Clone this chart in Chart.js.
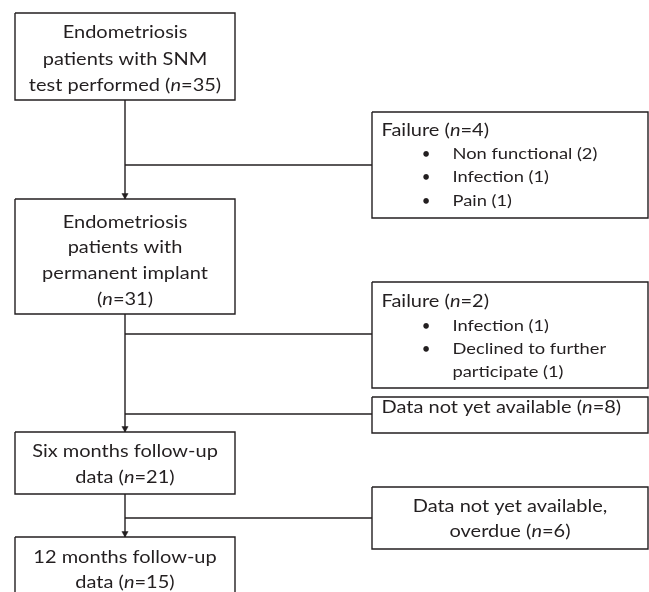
<!DOCTYPE html>
<html>
<head>
<meta charset="utf-8">
<script src="https://cdn.jsdelivr.net/npm/chart.js@4"></script>
<style>
  html, body { margin: 0; padding: 0; background: #fff; }
  canvas { display: block; }
</style>
</head>
<body>
<canvas id="flow" width="649" height="592"></canvas>
<script>
// main path: text per box, "#" is where the count goes
var stageLines = [
  ["Endometriosis", "patients with SNM", "test performed #"],
  ["Endometriosis", "patients with", "permanent implant", "#"],
  ["Six months follow-up", "data #"],
  ["12 months follow-up", "data #"]
];
var stageCounts = [35, 31, 21, 15];

// side boxes (patients leaving the path)
var exitLines = [["Failure #"], ["Failure #"], ["Data not yet available #"], ["Data not yet available,", "overdue #"]];
var exitCounts = [4, 2, 8, 6];

// reasons listed under the failures
var reasonNames = [["Non functional", "Infection", "Pain"], ["Infection", "Declined to further\nparticipate"], [], []];
var reasonCounts = [[2, 1, 1], [1, 1], [], []];

// layout, in chart units (1 unit = 1 px)
var trunkX = 125;
var stageBox = {
  x0: 15, x1: 235,
  y: [[13, 100], [199, 314], [432, 494], [537, 610]],
  first: [25, 28.5, 24.5, 25.5],
  step: [26.6, 25.8, 26.6, 25.3]
};
var exitBox = {
  x0: 372, x1: 648,
  y: [[112, 218], [282, 388], [397, 433], [487, 549]],
  branch: [165, 334, 414, 518],
  first: [23.7, 25.4, 15.5, 24.7],
  step: [23.3, 23.3, 23.3, 25],
  centered: [false, false, false, true]
};
var ink = "#231f20";
var fontSize = 16.4;
var reasonSize = 15;
var fontFamily = "Lato, 'Open Sans', sans-serif";
var stretch = 1.22; // the original text is wider than it is tall
var arrowR = 3.6;

function withCount(s, n) {
  return s.replace("#", "(*n*=" + n + ")");
}

function rect(x0, x1, y0, y1) {
  return [{x: x0, y: y0}, {x: x1, y: y0}, {x: x1, y: y1}, {x: x0, y: y1}, {x: x0, y: y0}];
}

function lineSet(pts) {
  return {
    data: pts, showLine: true, borderColor: ink, borderWidth: 1.4,
    pointRadius: 0, tension: 0, fill: false
  };
}

var datasets = [];
stageBox.y.forEach(function (yy) {
  datasets.push(lineSet(rect(stageBox.x0, stageBox.x1, yy[0], yy[1])));
});
exitBox.y.forEach(function (yy) {
  datasets.push(lineSet(rect(exitBox.x0, exitBox.x1, yy[0], yy[1])));
});
// trunk between stage boxes
for (var i = 0; i < stageBox.y.length - 1; i++) {
  datasets.push(lineSet([{x: trunkX, y: stageBox.y[i][1]}, {x: trunkX, y: stageBox.y[i + 1][0]}]));
}
// branches to side boxes
exitBox.branch.forEach(function (by) {
  datasets.push(lineSet([{x: trunkX, y: by}, {x: exitBox.x0, y: by}]));
});
// arrowheads
datasets.push({
  data: stageBox.y.slice(1).map(function (yy) { return {x: trunkX, y: yy[0] - arrowR}; }),
  showLine: false, pointStyle: "triangle", rotation: 180,
  pointRadius: arrowR, pointBackgroundColor: ink, pointBorderColor: ink, pointBorderWidth: 0.5
});

function setFont(ctx, italic, size) {
  ctx.font = (italic ? "italic " : "") + size + "px " + fontFamily;
}

function richText(ctx, str, x, y, align, size) {
  size = size || fontSize;
  var parts = str.split("*");
  var w = 0;
  parts.forEach(function (p, k) {
    setFont(ctx, k % 2, size);
    w += ctx.measureText(p).width * stretch;
  });
  var cx = align === "center" ? x - w / 2 : x;
  parts.forEach(function (p, k) {
    setFont(ctx, k % 2, size);
    ctx.save();
    ctx.translate(cx, y);
    ctx.scale(stretch, 1);
    ctx.fillText(p, 0, 0);
    ctx.restore();
    cx += ctx.measureText(p).width * stretch;
  });
}

var textPlugin = {
  id: "flowText",
  afterDatasetsDraw: function (chart) {
    var ctx = chart.ctx, sx = chart.scales.x, sy = chart.scales.y;
    ctx.save();
    ctx.fillStyle = ink;
    ctx.textAlign = "left";
    ctx.textBaseline = "alphabetic";

    stageLines.forEach(function (lines, b) {
      var cx = sx.getPixelForValue((stageBox.x0 + stageBox.x1) / 2);
      lines.forEach(function (ln, j) {
        var y = sy.getPixelForValue(stageBox.y[b][0] + stageBox.first[b] + j * stageBox.step[b]);
        richText(ctx, withCount(ln, stageCounts[b]), cx, y, "center");
      });
    });

    exitLines.forEach(function (lines, b) {
      var row = 0;
      var top = exitBox.y[b][0] + exitBox.first[b];
      var step = exitBox.step[b];
      var centered = exitBox.centered[b];
      var x = centered ? sx.getPixelForValue((exitBox.x0 + exitBox.x1) / 2) : sx.getPixelForValue(exitBox.x0 + 9.5);
      lines.forEach(function (ln) {
        richText(ctx, withCount(ln, exitCounts[b]), x, sy.getPixelForValue(top + row * step), centered ? "center" : "left");
        row++;
      });
      reasonNames[b].forEach(function (name, r) {
        var parts = (name + " (" + reasonCounts[b][r] + ")").split("\n");
        setFont(ctx, false, reasonSize);
        ctx.textAlign = "center";
        ctx.fillText("\u2022", sx.getPixelForValue(exitBox.x0 + 54), sy.getPixelForValue(top + row * step));
        ctx.textAlign = "left";
        parts.forEach(function (p) {
          richText(ctx, p, sx.getPixelForValue(exitBox.x0 + 80.5), sy.getPixelForValue(top + row * step), "left", reasonSize);
          row++;
        });
      });
    });
    ctx.restore();
  }
};

new Chart("flow", {
  type: "scatter",
  data: { datasets: datasets },
  options: {
    responsive: false,
    animation: false,
    devicePixelRatio: 1,
    layout: { padding: 0, autoPadding: false },
    plugins: { legend: { display: false }, tooltip: { enabled: false } },
    scales: {
      x: { type: "linear", min: 0, max: 649, display: false },
      y: { type: "linear", min: 0, max: 592, reverse: true, display: false }
    }
  },
  plugins: [textPlugin]
});
</script>
</body>
</html>
